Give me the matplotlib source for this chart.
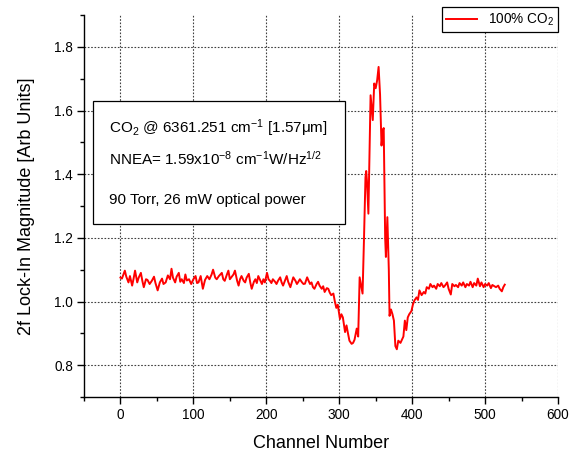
#!/usr/bin/env python3
"""Recreate the 2f lock-in CO2 spectrum plot and save it as out.png."""

import matplotlib
matplotlib.use("Agg")
import matplotlib.pyplot as plt
from matplotlib.patches import Rectangle
from matplotlib.ticker import MultipleLocator

# channel numbers and lock-in magnitude
channels = [
    0, 2, 4, 6, 8, 11, 13, 16, 18, 20, 23, 25, 28, 30, 32, 35, 37, 40, 43, 46,
    48, 51, 54, 57, 59, 62, 65, 68, 70, 72, 75, 77, 80, 82, 84, 87, 89, 91, 94, 97,
    100, 103, 105, 107, 110, 113, 116, 119, 122, 125, 127, 130, 132, 135, 139, 141, 143, 146, 148, 150,
    152, 155, 157, 160, 162, 164, 166, 169, 171, 173, 176, 178, 180, 183, 185, 187, 189, 192, 194, 196,
    198, 201, 203, 205, 207, 209, 212, 214, 216, 219, 221, 223, 226, 228, 230, 233, 235, 237, 240, 242,
    244, 246, 249, 251, 253, 256, 258, 260, 262, 264, 266, 269, 271, 273, 276, 278, 280, 283, 285, 287,
    289, 292, 294, 296, 298, 301, 303, 305, 308, 310, 312, 314, 317, 319, 321, 324, 326, 328, 330, 332,
    334, 336, 337, 338, 340, 343, 346, 348, 350, 352, 354, 356, 358, 360, 361, 363, 364, 366, 368, 369,
    371, 373, 375, 377, 379, 381, 384, 386, 388, 390, 392, 394, 396, 399, 401, 403, 406, 408, 410, 413,
    416, 418, 420, 423, 425, 428, 430, 433, 435, 438, 440, 443, 445, 448, 450, 453, 455, 458, 460, 463,
    465, 468, 470, 473, 475, 478, 480, 483, 485, 488, 490, 493, 495, 498, 500, 503, 505, 508, 510, 513,
    515, 518, 520, 523, 525, 527,
]
magnitude = [
    1.075, 1.072, 1.085, 1.097, 1.078, 1.060, 1.080, 1.050, 1.072, 1.097, 1.060, 1.075, 1.090, 1.065, 1.045, 1.070, 1.068, 1.055, 1.065, 1.078,
    1.058, 1.035, 1.060, 1.072, 1.055, 1.060, 1.082, 1.070, 1.103, 1.075, 1.060, 1.078, 1.090, 1.062, 1.070, 1.058, 1.085, 1.066, 1.070, 1.055,
    1.070, 1.080, 1.058, 1.060, 1.080, 1.040, 1.068, 1.080, 1.070, 1.085, 1.100, 1.075, 1.070, 1.080, 1.090, 1.070, 1.065, 1.085, 1.097, 1.070,
    1.076, 1.085, 1.097, 1.065, 1.050, 1.070, 1.080, 1.065, 1.060, 1.075, 1.087, 1.060, 1.040, 1.062, 1.070, 1.058, 1.080, 1.065, 1.055, 1.070,
    1.060, 1.090, 1.070, 1.065, 1.058, 1.070, 1.062, 1.055, 1.065, 1.076, 1.060, 1.050, 1.068, 1.080, 1.062, 1.045, 1.060, 1.076, 1.065, 1.055,
    1.062, 1.070, 1.060, 1.055, 1.056, 1.076, 1.065, 1.055, 1.060, 1.045, 1.040, 1.055, 1.062, 1.050, 1.040, 1.048, 1.030, 1.042, 1.040, 1.028,
    1.020, 1.025, 1.000, 0.980, 0.990, 0.945, 0.960, 0.950, 0.904, 0.925, 0.900, 0.877, 0.867, 0.870, 0.880, 0.915, 0.890, 1.076, 1.050, 1.025,
    1.200, 1.390, 1.410, 1.380, 1.276, 1.648, 1.570, 1.685, 1.670, 1.695, 1.737, 1.650, 1.490, 1.540, 1.545, 1.200, 1.140, 1.265, 1.100, 0.955,
    0.975, 0.960, 0.940, 0.860, 0.850, 0.877, 0.870, 0.880, 0.890, 0.940, 0.910, 0.950, 0.960, 0.970, 0.990, 1.003, 1.013, 1.005, 1.035, 1.020,
    1.030, 1.025, 1.045, 1.040, 1.055, 1.045, 1.050, 1.040, 1.055, 1.048, 1.058, 1.045, 1.050, 1.060, 1.040, 1.022, 1.055, 1.048, 1.052, 1.045,
    1.058, 1.050, 1.060, 1.045, 1.055, 1.050, 1.062, 1.045, 1.058, 1.050, 1.072, 1.048, 1.060, 1.045, 1.055, 1.050, 1.058, 1.042, 1.052, 1.048,
    1.045, 1.050, 1.040, 1.032, 1.045, 1.053,
]

series_label = "100% CO$_2$"
info_lines = [
    "CO$_2$ @ 6361.251 cm$^{-1}$ [1.57$\\mu$m]",
    "NNEA= 1.59x10$^{-8}$ cm$^{-1}$W/Hz$^{1/2}$",
    "90 Torr, 26 mW optical power",
]


def main() -> None:
    plt.rcParams["font.family"] = ["Liberation Sans", "DejaVu Sans"]
    plt.rcParams["mathtext.default"] = "regular"

    fig = plt.figure(figsize=(5.73, 4.53), dpi=100)
    ax = fig.add_axes([0.1466, 0.1236, 0.8272, 0.8432])

    ax.plot(channels, magnitude, color="red", linewidth=1.4, label=series_label)

    ax.set_xlim(-50, 600)
    ax.set_ylim(0.7, 1.9)
    ax.xaxis.set_major_locator(MultipleLocator(100))
    ax.xaxis.set_minor_locator(MultipleLocator(50))
    ax.yaxis.set_minor_locator(MultipleLocator(0.1))
    ax.set_yticks([0.8, 1.0, 1.2, 1.4, 1.6, 1.8])
    ax.set_yticklabels(["0.8", "1.0", "1.2", "1.4", "1.6", "1.8"])

    for side in ("top", "right"):
        ax.spines[side].set_visible(False)
    for side in ("left", "bottom"):
        ax.spines[side].set_linewidth(1.0)

    ax.tick_params(which="major", direction="out", length=5, width=1.0,
                   labelsize=9.8, pad=3)
    ax.tick_params(which="minor", direction="out", length=3, width=1.0)
    ax.grid(True, which="major", color="0.25", linestyle=(0, (1.5, 1.5)),
            linewidth=0.8)

    ax.set_xlabel("Channel Number", fontsize=13, labelpad=9)
    ax.set_ylabel("2f Lock-In Magnitude [Arb Units]", fontsize=13, labelpad=14)

    box = Rectangle((0.0188, 0.453), 0.5317, 0.321, transform=ax.transAxes,
                    facecolor="white", edgecolor="black", linewidth=0.9,
                    zorder=3)
    ax.add_patch(box)
    for ypos, line in zip((0.705, 0.625, 0.515), info_lines):
        ax.text(0.053, ypos, line, transform=ax.transAxes, fontsize=11,
                va="center", ha="left", zorder=4)

    leg = ax.legend(loc="upper right", bbox_to_anchor=(1.0, 1.02),
                    fontsize=9.8, frameon=True, fancybox=False,
                    edgecolor="black", framealpha=1, handlelength=2.3,
                    borderpad=0.3, borderaxespad=0)
    leg.get_frame().set_linewidth(0.9)

    fig.savefig("out.png", dpi=100, facecolor="white")


if __name__ == "__main__":
    main()
